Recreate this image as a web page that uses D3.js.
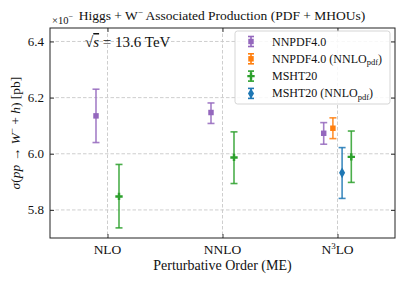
<!DOCTYPE html>
<html>
<head>
<meta charset="utf-8">
<script src="https://cdn.jsdelivr.net/npm/d3@7"></script>
<style>
  body { margin: 0; background: #fff; }
</style>
</head>
<body>
<script>
// data
var orders = ["NLO", "NNLO", "N3LO"];
var yTicks = [5.8, 6.0, 6.2, 6.4];

var nnpdfCentral = [6.135, 6.147, 6.073];
var nnpdfLow     = [6.040, 6.108, 6.034];
var nnpdfHigh    = [6.230, 6.181, 6.111];

var nnpdfNnloCentral = [null, null, 6.091];
var nnpdfNnloLow     = [null, null, 6.054];
var nnpdfNnloHigh    = [null, null, 6.128];

var mshtCentral = [5.848, 5.987, 5.989];
var mshtLow     = [5.736, 5.894, 5.898];
var mshtHigh    = [5.962, 6.078, 6.081];

var mshtNnloCentral = [null, null, 5.932];
var mshtNnloLow     = [null, null, 5.841];
var mshtNnloHigh    = [null, null, 6.022];

var series = [
  { name: "NNPDF4.0", sub: null, color: "#9467bd", symbol: d3.symbolSquare, size: 30,
    c: nnpdfCentral, lo: nnpdfLow, hi: nnpdfHigh, off: [-0.1, -0.1, -0.12] },
  { name: "NNPDF4.0 (NNLO", sub: "pdf", color: "#ff7f0e", symbol: d3.symbolSquare, size: 30,
    c: nnpdfNnloCentral, lo: nnpdfNnloLow, hi: nnpdfNnloHigh, off: [0, 0, -0.04] },
  { name: "MSHT20", sub: null, color: "#2ca02c", symbol: d3.symbolCross, size: 30,
    c: mshtCentral, lo: mshtLow, hi: mshtHigh, off: [0.1, 0.1, 0.12] },
  { name: "MSHT20 (NNLO", sub: "pdf", color: "#1f77b4", symbol: d3.symbolDiamond, size: 32,
    c: mshtNnloCentral, lo: mshtNnloLow, hi: mshtNnloHigh, off: [0, 0, 0.04] }
];

var FONT = "Liberation Serif";

// every text goes through here so the serif font is set on the node itself
function addText(sel, size) {
  return sel.append("text")
      .attr("font-family", FONT)
      .style("font-family", "'" + FONT + "'")
      .style("font-size", size + "px")
      .attr("fill", "#111");
}

var W = 407, H = 285;
var margin = { top: 28, right: 12, bottom: 47, left: 50 };
var width = W - margin.left - margin.right,
    height = H - margin.top - margin.bottom;

var svg = d3.select("body").append("svg")
    .attr("width", W).attr("height", H);
var g = svg.append("g")
    .attr("transform", "translate(" + margin.left + "," + margin.top + ")");

var x = d3.scaleLinear().domain([-0.5, 2.5]).range([0, width]);
var y = d3.scaleLinear().domain([5.70, 6.448]).range([height, 0]);

// grid
g.append("g").selectAll("line").data(yTicks).enter().append("line")
    .attr("x1", 0).attr("x2", width)
    .attr("y1", d => y(d)).attr("y2", d => y(d))
    .attr("stroke", "#c8c8c8").attr("stroke-width", 0.9)
    .attr("stroke-dasharray", "3.5,2");
g.append("g").selectAll("line").data(d3.range(orders.length)).enter().append("line")
    .attr("y1", 0).attr("y2", height)
    .attr("x1", d => x(d)).attr("x2", d => x(d))
    .attr("stroke", "#c8c8c8").attr("stroke-width", 0.9)
    .attr("stroke-dasharray", "3.5,2");

// axes, ticks pointing in; labels drawn separately
var yLeft = g.append("g").call(d3.axisLeft(y).tickValues(yTicks).tickSizeInner(-4).tickSizeOuter(0).tickFormat(""));
var yRight = g.append("g").attr("transform", "translate(" + width + ",0)")
    .call(d3.axisRight(y).tickValues(yTicks).tickSizeInner(-4).tickSizeOuter(0).tickFormat(""));
var xBot = g.append("g").attr("transform", "translate(0," + height + ")")
    .call(d3.axisBottom(x).tickValues([0, 1, 2]).tickSizeInner(-4).tickSizeOuter(0).tickFormat(""));
var xTop = g.append("g")
    .call(d3.axisTop(x).tickValues([0, 1, 2]).tickSizeInner(-4).tickSizeOuter(0).tickFormat(""));
[yLeft, yRight, xBot, xTop].forEach(function (a) {
  a.select(".domain").remove();
  a.selectAll("text").remove();
  a.selectAll("line").attr("stroke", "#222").attr("stroke-width", 0.9);
});

// y tick labels
var fmt = d3.format(".1f");
yTicks.forEach(function (v) {
  addText(g, 13).attr("x", -6).attr("y", y(v)).attr("dy", "0.34em")
      .attr("text-anchor", "end").text(fmt(v));
});

// x tick labels
orders.forEach(function (d, i) {
  var t = addText(g, 13.5).attr("x", x(i)).attr("y", height + 16).attr("text-anchor", "middle");
  if (d === "N3LO") {
    t.append("tspan").text("N");
    t.append("tspan").text("3").attr("dy", -5).style("font-size", "9px");
    t.append("tspan").text("LO").attr("dy", 5);
  } else {
    t.text(d);
  }
});

// frame
g.append("rect").attr("width", width).attr("height", height)
    .attr("fill", "none").attr("stroke", "#222").attr("stroke-width", 1);

// error bars
var cap = 3.5;
series.forEach(function (s) {
  var pts = [];
  s.c.forEach(function (v, i) {
    if (v !== null) pts.push({ i: i, c: v, lo: s.lo[i], hi: s.hi[i], dx: s.off[i] });
  });
  var grp = g.append("g").selectAll("g").data(pts).enter().append("g");
  grp.append("line")
      .attr("x1", d => x(d.i + d.dx)).attr("x2", d => x(d.i + d.dx))
      .attr("y1", d => y(d.lo)).attr("y2", d => y(d.hi))
      .attr("stroke", s.color).attr("stroke-width", 1.6).attr("stroke-opacity", 0.85);
  ["lo", "hi"].forEach(function (k) {
    grp.append("line")
        .attr("x1", d => x(d.i + d.dx) - cap).attr("x2", d => x(d.i + d.dx) + cap)
        .attr("y1", d => y(d[k])).attr("y2", d => y(d[k]))
        .attr("stroke", s.color).attr("stroke-width", 1.6).attr("stroke-opacity", 0.85);
  });
  grp.append("path")
      .attr("d", d3.symbol().type(s.symbol).size(s.size))
      .attr("transform", d => "translate(" + x(d.i + d.dx) + "," + y(d.c) + ")")
      .attr("fill", s.color);
});

// legend
var leg = g.append("g").attr("transform", "translate(" + (235 - margin.left) + "," + (31 - margin.top) + ")");
leg.append("rect").attr("width", 155).attr("height", 73).attr("rx", 2.5)
    .attr("fill", "#fff").attr("fill-opacity", 0.85)
    .attr("stroke", "#d0d0d0").attr("stroke-width", 0.9);
series.forEach(function (s, i) {
  var yy = 10.5 + i * 17.3, xx = 16;
  var e = leg.append("g");
  e.append("line").attr("x1", xx).attr("x2", xx).attr("y1", yy - 5).attr("y2", yy + 5)
      .attr("stroke", s.color).attr("stroke-width", 1.6);
  [-5, 5].forEach(function (o) {
    e.append("line").attr("x1", xx - 3).attr("x2", xx + 3).attr("y1", yy + o).attr("y2", yy + o)
        .attr("stroke", s.color).attr("stroke-width", 1.6);
  });
  e.append("path").attr("d", d3.symbol().type(s.symbol).size(s.size))
      .attr("transform", "translate(" + xx + "," + yy + ")").attr("fill", s.color);
  var t = addText(e, 12).attr("x", 37).attr("y", yy + 4);
  t.append("tspan").text(s.name);
  if (s.sub) {
    t.append("tspan").text(s.sub).attr("dy", 2.5).style("font-size", "8.5px");
    t.append("tspan").text(")").attr("dy", -2.5);
  }
});

// sqrt(s) annotation
var ann = addText(svg, 15).attr("x", 85).attr("y", 47);
ann.append("tspan").text("\u221A");
ann.append("tspan").text("s").style("font-style", "italic").attr("text-decoration", "overline");
ann.append("tspan").text(" =  13.6 TeV");

// title and offset text
var off = addText(svg, 10.5).attr("x", 52).attr("y", 24);
off.append("tspan").text("\u00D710");
off.append("tspan").text("\u2212").attr("dy", -5).style("font-size", "8px");
var title = addText(svg, 13.5).attr("x", 222).attr("y", 20).attr("text-anchor", "middle");
title.append("tspan").text("Higgs  +  W");
title.append("tspan").text("\u2212").attr("dy", -5).style("font-size", "9px");
title.append("tspan").text(" Associated Production (PDF  +  MHOUs)").attr("dy", 5);

// axis labels
addText(svg, 14).attr("x", margin.left + width / 2).attr("y", 270)
    .attr("text-anchor", "middle").text("Perturbative Order (ME)");
var yl = addText(svg, 13.5)
    .attr("transform", "translate(20," + (margin.top + height / 2) + ") rotate(-90)")
    .attr("text-anchor", "middle");
yl.append("tspan").text("\u03C3").style("font-style", "italic");
yl.append("tspan").text("(");
yl.append("tspan").text("pp").style("font-style", "italic");
yl.append("tspan").text(" \u2192 ");
yl.append("tspan").text("W").style("font-style", "italic");
yl.append("tspan").text("\u2212").attr("dy", -5).style("font-size", "9px");
yl.append("tspan").text(" + ").attr("dy", 5);
yl.append("tspan").text("h").style("font-style", "italic");
yl.append("tspan").text(") [pb]");
</script>
</body>
</html>
